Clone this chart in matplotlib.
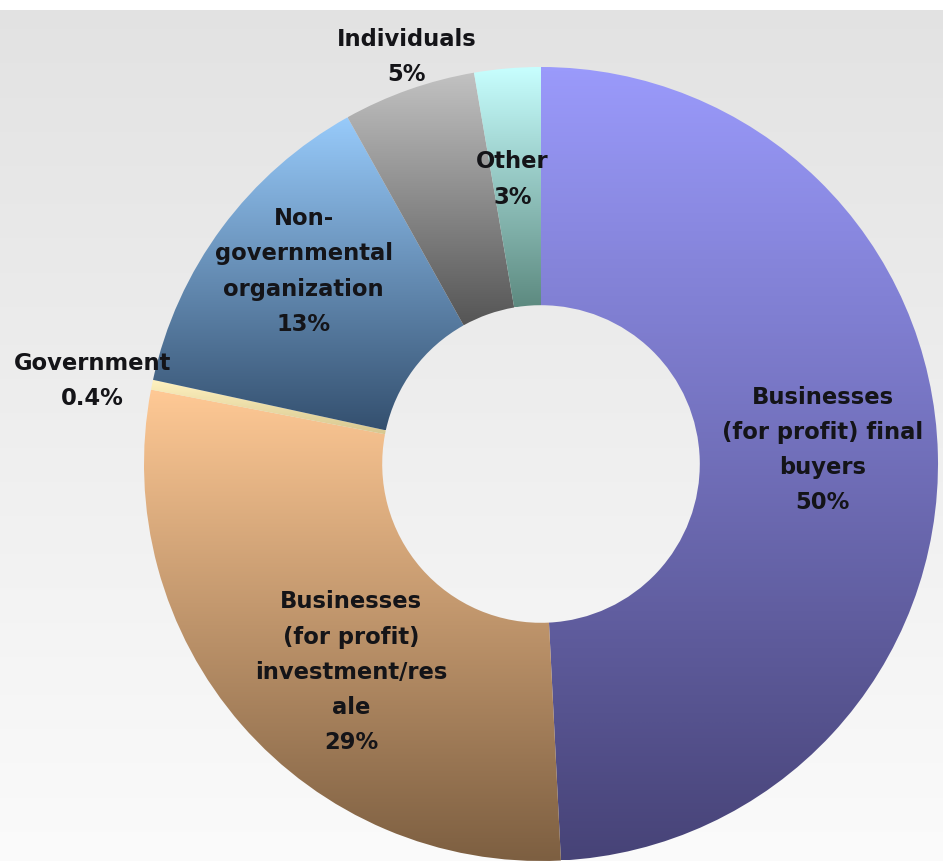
import numpy as np
import matplotlib
matplotlib.use("Agg")
import matplotlib.pyplot as plt
from matplotlib.colors import LinearSegmentedColormap

# ---- data ----
categories = ["Businesses\n(for profit) final\nbuyers",
              "Businesses\n(for profit)\ninvestment/res\nale",
              "Government",
              "Non-\ngovernmental\norganization",
              "Individuals",
              "Other"]
shares = [49.2, 28.8, 0.4, 13.5, 5.4, 2.7]
pct_labels = ["50%", "29%", "0.4%", "13%", "5%", "3%"]

# ---- style ----
top_colors = ["#9a9afb", "#ffc995", "#fff2c0", "#98cbfb", "#c2c2c2", "#c8ffff"]
bot_colors = ["#474377", "#7d5f41", "#d8c890", "#34506f", "#555555", "#5d8a80"]
label_dist = [0.71, 0.71, 1.15, 0.77, 1.08, 0.72]
label_ang_off = [1.4, 6.6, 1.0, -2.5, -1.2, 0.9]

W, H = 943, 861
fig = plt.figure(figsize=(W / 100, H / 100), dpi=100, facecolor="#f4f4f4")

# background gradient
bg = fig.add_axes([0, 0, 1, 1], zorder=0)
bg.set_axis_off()
g = np.linspace(0, 1, 256).reshape(-1, 1)
bg_cmap = LinearSegmentedColormap.from_list("bg", ["#e2e2e2", "#fbfbfb"])
bg.imshow(g, cmap=bg_cmap, aspect="auto", extent=[-0.01, 1.01, -0.01, 1.01], origin="upper")
bg.axhspan(1 - 10 / H, 1.01, color="white", lw=0)
bg.set_xlim(0, 1)
bg.set_ylim(0, 1)

ax = fig.add_axes([0, 0, 1, 1], zorder=1)
ax.set_axis_off()
ax.patch.set_alpha(0)

cx, cy, R = 541, 464, 397
xmin, xmax = -cx / R, (W - cx) / R
ymin, ymax = -(H - cy) / R, cy / R

wedges, _ = ax.pie(shares, startangle=90, counterclock=False, radius=1.0,
                   wedgeprops=dict(width=0.6, edgecolor="none", linewidth=0))

grad = np.linspace(0, 1, 256).reshape(-1, 1)
for w, c0, c1 in zip(wedges, top_colors, bot_colors):
    w.set_facecolor("none")
    bb = w.get_path().get_extents()
    cmap = LinearSegmentedColormap.from_list("w", [c0, c1])
    im = ax.imshow(grad, cmap=cmap, aspect="auto", origin="upper",
                   extent=[bb.x0, bb.x1, bb.y0, bb.y1], zorder=2,
                   interpolation="bilinear")
    im.set_clip_path(w)

for w, cat, pct, d, off in zip(wedges, categories, pct_labels, label_dist, label_ang_off):
    ang = np.deg2rad((w.theta1 + w.theta2) / 2 + off)
    x, y = d * np.cos(ang), d * np.sin(ang)
    ax.text(x, y, f"{cat}\n{pct}", ha="center", va="center", multialignment="center",
            fontsize=16.3, fontweight="bold", family="DejaVu Sans", color="#141418",
            linespacing=1.68, zorder=5)

ax.set_xlim(xmin, xmax)
ax.set_ylim(ymin, ymax)

fig.savefig("out.png", dpi=100, facecolor=fig.get_facecolor())
